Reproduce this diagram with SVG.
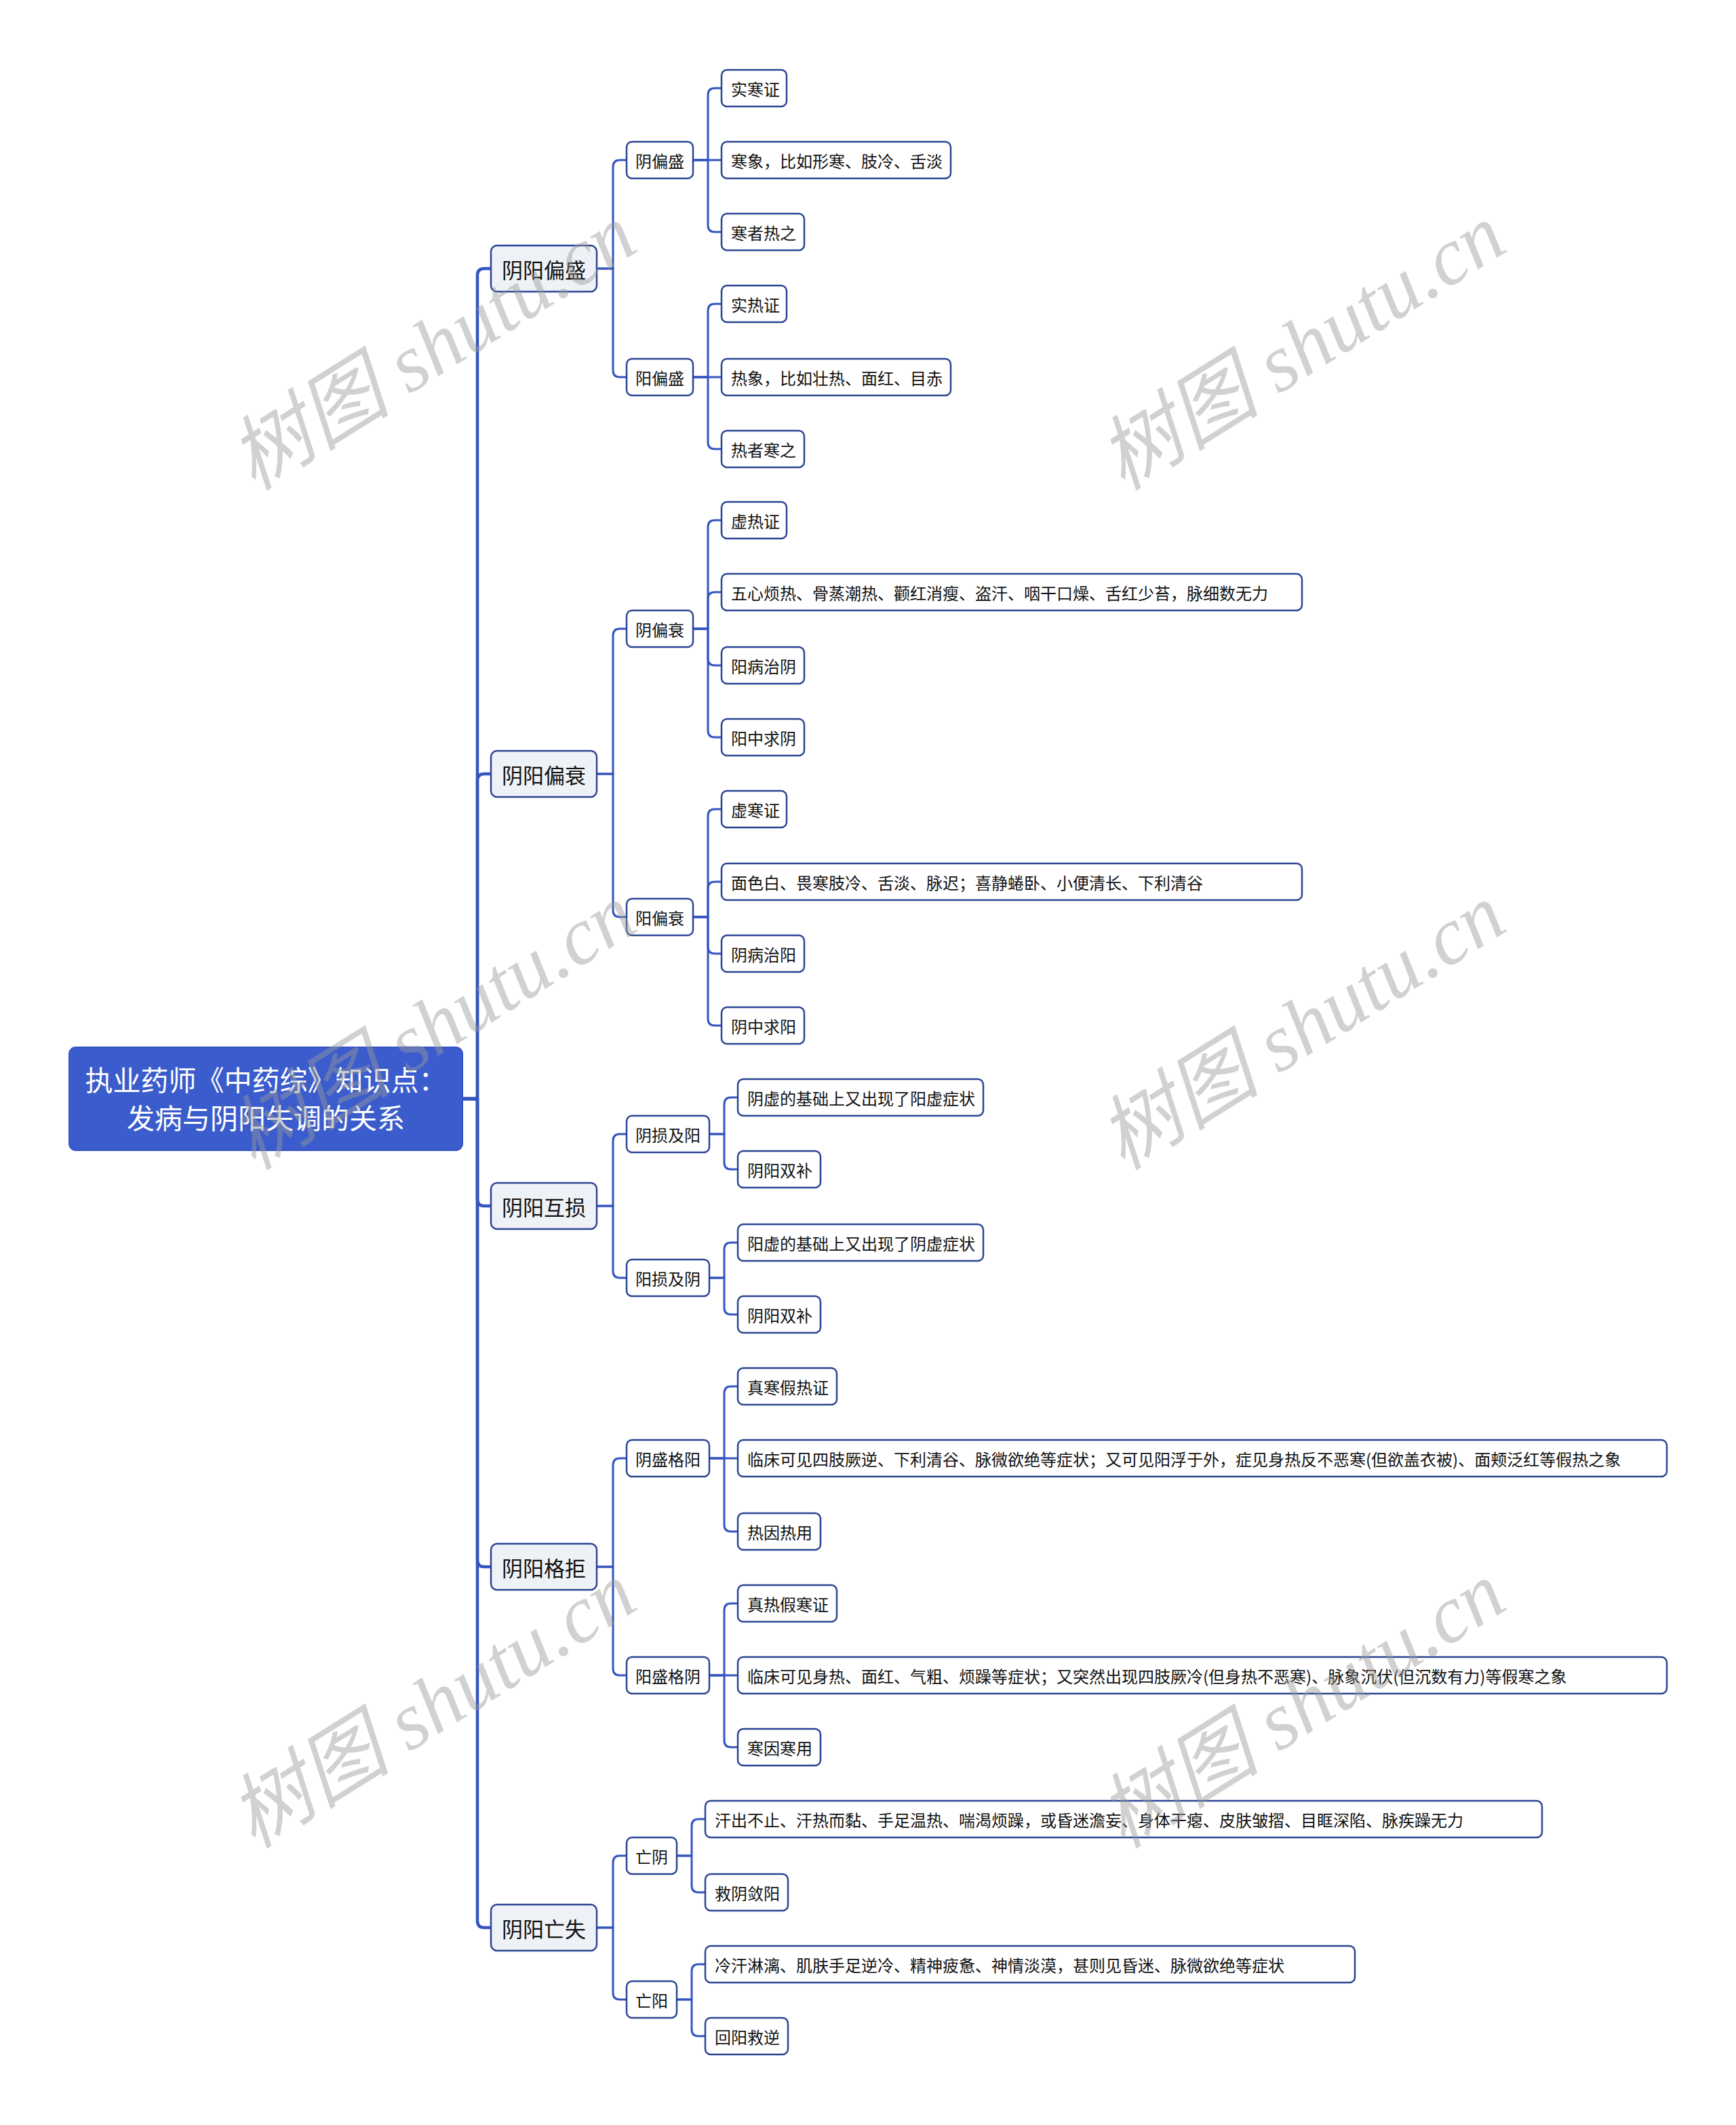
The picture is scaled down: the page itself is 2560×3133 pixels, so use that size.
<svg xmlns="http://www.w3.org/2000/svg" width="2560" height="3133" viewBox="0 0 2560 3133">
<style>
.bg{fill:#ffffff}
.conn path{fill:none;stroke:#3455bf;stroke-width:3;stroke-linecap:round;stroke-linejoin:round}
.conn .trunk{stroke-width:4.5}
.root rect{fill:#3b5ccc;stroke:#3454c4;stroke-width:2}
.root text{fill:#ffffff;font-family:"Noto Sans CJK SC","Noto Sans",sans-serif;font-size:41px;text-anchor:middle;dominant-baseline:central}
.l1 rect{fill:#eef2f7;stroke:#2b4593;stroke-width:2.5}
.l1 text{fill:#111;font-family:"Noto Sans CJK SC","Noto Sans",sans-serif;font-size:31px;text-anchor:middle;dominant-baseline:central}
.l2 rect,.lf rect{fill:#ffffff;stroke:#2b4593;stroke-width:2.5}
.l2 text{fill:#111;font-family:"Noto Sans CJK SC","Noto Sans",sans-serif;font-size:24px;text-anchor:middle;dominant-baseline:central}
.lf text{fill:#111;font-family:"Noto Sans CJK SC","Noto Sans",sans-serif;font-size:24px;dominant-baseline:central}
.wm text{fill:#9a9a9a;fill-opacity:0.45;font-family:"Liberation Serif","Noto Sans CJK SC",serif;font-style:italic;font-size:120px;text-anchor:middle;dominant-baseline:central}
</style>
<rect class="bg" x="0" y="0" width="2560" height="3133"/>
<g id="connectors" class="conn">
<path class="trunk" d="M682 1620H704V406Q704 396 714 396H724"/>
<path class="trunk" d="M682 1620H704V1151Q704 1141 714 1141H724"/>
<path class="trunk" d="M682 1620H704V1768Q704 1778 714 1778H724"/>
<path class="trunk" d="M682 1620H704V2300Q704 2310 714 2310H724"/>
<path class="trunk" d="M682 1620H704V2832Q704 2842 714 2842H724"/>
<path d="M880 396H904V246Q904 236 914 236H924"/>
<path d="M880 396H904V546Q904 556 914 556H924"/>
<path d="M880 1141H904V937Q904 927 914 927H924"/>
<path d="M880 1141H904V1342Q904 1352 914 1352H924"/>
<path d="M880 1778H904V1682Q904 1672 914 1672H924"/>
<path d="M880 1778H904V1874Q904 1884 914 1884H924"/>
<path d="M880 2310H904V2160Q904 2150 914 2150H924"/>
<path d="M880 2310H904V2460Q904 2470 914 2470H924"/>
<path d="M880 2842H904V2746Q904 2736 914 2736H924"/>
<path d="M880 2842H904V2938Q904 2948 914 2948H924"/>
<path d="M1022 236H1044V140Q1044 130 1054 130H1064"/>
<path d="M1022 236H1064"/>
<path d="M1022 236H1044V332Q1044 342 1054 342H1064"/>
<path d="M1022 556H1044V458Q1044 448 1054 448H1064"/>
<path d="M1022 556H1064"/>
<path d="M1022 556H1044V652Q1044 662 1054 662H1064"/>
<path d="M1022 927H1044V777Q1044 767 1054 767H1064"/>
<path d="M1022 927H1044V883Q1044 873 1054 873H1064"/>
<path d="M1022 927H1044V971Q1044 981 1054 981H1064"/>
<path d="M1022 927H1044V1077Q1044 1087 1054 1087H1064"/>
<path d="M1022 1352H1044V1203Q1044 1193 1054 1193H1064"/>
<path d="M1022 1352H1044V1310Q1044 1300 1054 1300H1064"/>
<path d="M1022 1352H1044V1396Q1044 1406 1054 1406H1064"/>
<path d="M1022 1352H1044V1502Q1044 1512 1054 1512H1064"/>
<path d="M1046 1672H1068V1628Q1068 1618 1078 1618H1088"/>
<path d="M1046 1672H1068V1714Q1068 1724 1078 1724H1088"/>
<path d="M1046 1884H1068V1842Q1068 1832 1078 1832H1088"/>
<path d="M1046 1884H1068V1928Q1068 1938 1078 1938H1088"/>
<path d="M1046 2150H1068V2054Q1068 2044 1078 2044H1088"/>
<path d="M1046 2150H1088"/>
<path d="M1046 2150H1068V2248Q1068 2258 1078 2258H1088"/>
<path d="M1046 2470H1068V2374Q1068 2364 1078 2364H1088"/>
<path d="M1046 2470H1088"/>
<path d="M1046 2470H1068V2566Q1068 2576 1078 2576H1088"/>
<path d="M998 2736H1020V2692Q1020 2682 1030 2682H1040"/>
<path d="M998 2736H1020V2780Q1020 2790 1030 2790H1040"/>
<path d="M998 2948H1020V2906Q1020 2896 1030 2896H1040"/>
<path d="M998 2948H1020V2992Q1020 3002 1030 3002H1040"/>
</g>
<g id="root" class="root"><rect x="102" y="1544" width="580" height="152" rx="10"/><text x="392" y="1590">执业药师《中药综》知识点：</text><text x="392" y="1646">发病与阴阳失调的关系</text></g>
<g id="n-pianSheng" class="l1"><rect x="724" y="362" width="156" height="68" rx="9"/><text x="802" y="396">阴阳偏盛</text></g>
<g id="n-pianShuai" class="l1"><rect x="724" y="1107" width="156" height="68" rx="9"/><text x="802" y="1141">阴阳偏衰</text></g>
<g id="n-huSun" class="l1"><rect x="724" y="1744" width="156" height="68" rx="9"/><text x="802" y="1778">阴阳互损</text></g>
<g id="n-geJu" class="l1"><rect x="724" y="2276" width="156" height="68" rx="9"/><text x="802" y="2310">阴阳格拒</text></g>
<g id="n-wangShi" class="l1"><rect x="724" y="2808" width="156" height="68" rx="9"/><text x="802" y="2842">阴阳亡失</text></g>
<g id="n-yinPianSheng" class="l2"><rect x="924" y="209" width="98" height="54" rx="8"/><text x="973" y="236">阴偏盛</text></g>
<g id="n-yangPianSheng" class="l2"><rect x="924" y="529" width="98" height="54" rx="8"/><text x="973" y="556">阳偏盛</text></g>
<g id="n-yinPianShuai" class="l2"><rect x="924" y="900" width="98" height="54" rx="8"/><text x="973" y="927">阴偏衰</text></g>
<g id="n-yangPianShuai" class="l2"><rect x="924" y="1325" width="98" height="54" rx="8"/><text x="973" y="1352">阳偏衰</text></g>
<g id="n-yinSunJiYang" class="l2"><rect x="924" y="1645" width="122" height="54" rx="8"/><text x="985" y="1672">阴损及阳</text></g>
<g id="n-yangSunJiYin" class="l2"><rect x="924" y="1857" width="122" height="54" rx="8"/><text x="985" y="1884">阳损及阴</text></g>
<g id="n-yinShengGeYang" class="l2"><rect x="924" y="2123" width="122" height="54" rx="8"/><text x="985" y="2150">阴盛格阳</text></g>
<g id="n-yangShengGeYin" class="l2"><rect x="924" y="2443" width="122" height="54" rx="8"/><text x="985" y="2470">阳盛格阴</text></g>
<g id="n-wangYin" class="l2"><rect x="924" y="2709" width="74" height="54" rx="8"/><text x="961" y="2736">亡阴</text></g>
<g id="n-wangYang" class="l2"><rect x="924" y="2921" width="74" height="54" rx="8"/><text x="961" y="2948">亡阳</text></g>
<g id="leaf-1" class="lf"><rect x="1064" y="103" width="96" height="54" rx="8"/><text x="1078" y="130">实寒证</text></g>
<g id="leaf-2" class="lf"><rect x="1064" y="209" width="338" height="54" rx="8"/><text x="1078" y="236">寒象，比如形寒、肢冷、舌淡</text></g>
<g id="leaf-3" class="lf"><rect x="1064" y="315" width="122" height="54" rx="8"/><text x="1078" y="342">寒者热之</text></g>
<g id="leaf-4" class="lf"><rect x="1064" y="421" width="96" height="54" rx="8"/><text x="1078" y="448">实热证</text></g>
<g id="leaf-5" class="lf"><rect x="1064" y="529" width="338" height="54" rx="8"/><text x="1078" y="556">热象，比如壮热、面红、目赤</text></g>
<g id="leaf-6" class="lf"><rect x="1064" y="635" width="122" height="54" rx="8"/><text x="1078" y="662">热者寒之</text></g>
<g id="leaf-7" class="lf"><rect x="1064" y="740" width="96" height="54" rx="8"/><text x="1078" y="767">虚热证</text></g>
<g id="leaf-8" class="lf"><rect x="1064" y="846" width="856" height="54" rx="8"/><text x="1078" y="873">五心烦热、骨蒸潮热、颧红消瘦、盗汗、咽干口燥、舌红少苔，脉细数无力</text></g>
<g id="leaf-9" class="lf"><rect x="1064" y="954" width="122" height="54" rx="8"/><text x="1078" y="981">阳病治阴</text></g>
<g id="leaf-10" class="lf"><rect x="1064" y="1060" width="122" height="54" rx="8"/><text x="1078" y="1087">阳中求阴</text></g>
<g id="leaf-11" class="lf"><rect x="1064" y="1166" width="96" height="54" rx="8"/><text x="1078" y="1193">虚寒证</text></g>
<g id="leaf-12" class="lf"><rect x="1064" y="1273" width="856" height="54" rx="8"/><text x="1078" y="1300">面色白、畏寒肢冷、舌淡、脉迟；喜静蜷卧、小便清长、下利清谷</text></g>
<g id="leaf-13" class="lf"><rect x="1064" y="1379" width="122" height="54" rx="8"/><text x="1078" y="1406">阴病治阳</text></g>
<g id="leaf-14" class="lf"><rect x="1064" y="1485" width="122" height="54" rx="8"/><text x="1078" y="1512">阴中求阳</text></g>
<g id="leaf-15" class="lf"><rect x="1088" y="1591" width="362" height="54" rx="8"/><text x="1102" y="1618">阴虚的基础上又出现了阳虚症状</text></g>
<g id="leaf-16" class="lf"><rect x="1088" y="1697" width="122" height="54" rx="8"/><text x="1102" y="1724">阴阳双补</text></g>
<g id="leaf-17" class="lf"><rect x="1088" y="1805" width="362" height="54" rx="8"/><text x="1102" y="1832">阳虚的基础上又出现了阴虚症状</text></g>
<g id="leaf-18" class="lf"><rect x="1088" y="1911" width="122" height="54" rx="8"/><text x="1102" y="1938">阴阳双补</text></g>
<g id="leaf-19" class="lf"><rect x="1088" y="2017" width="146" height="54" rx="8"/><text x="1102" y="2044">真寒假热证</text></g>
<g id="leaf-20" class="lf"><rect x="1088" y="2123" width="1370" height="54" rx="8"/><text x="1102" y="2150">临床可见四肢厥逆、下利清谷、脉微欲绝等症状；又可见阳浮于外，症见身热反不恶寒(但欲盖衣被)、面颊泛红等假热之象</text></g>
<g id="leaf-21" class="lf"><rect x="1088" y="2231" width="122" height="54" rx="8"/><text x="1102" y="2258">热因热用</text></g>
<g id="leaf-22" class="lf"><rect x="1088" y="2337" width="146" height="54" rx="8"/><text x="1102" y="2364">真热假寒证</text></g>
<g id="leaf-23" class="lf"><rect x="1088" y="2443" width="1370" height="54" rx="8"/><text x="1102" y="2470">临床可见身热、面红、气粗、烦躁等症状；又突然出现四肢厥冷(但身热不恶寒)、脉象沉伏(但沉数有力)等假寒之象</text></g>
<g id="leaf-24" class="lf"><rect x="1088" y="2549" width="122" height="54" rx="8"/><text x="1102" y="2576">寒因寒用</text></g>
<g id="leaf-25" class="lf"><rect x="1040" y="2655" width="1234" height="54" rx="8"/><text x="1054" y="2682">汗出不止、汗热而黏、手足温热、喘渴烦躁，或昏迷澹妄、身体干瘪、皮肤皱摺、目眶深陷、脉疾躁无力</text></g>
<g id="leaf-26" class="lf"><rect x="1040" y="2763" width="122" height="54" rx="8"/><text x="1054" y="2790">救阴敛阳</text></g>
<g id="leaf-27" class="lf"><rect x="1040" y="2869" width="958" height="54" rx="8"/><text x="1054" y="2896">冷汗淋漓、肌肤手足逆冷、精神疲惫、神情淡漠，甚则见昏迷、脉微欲绝等症状</text></g>
<g id="leaf-28" class="lf"><rect x="1040" y="2975" width="122" height="54" rx="8"/><text x="1054" y="3002">回阳救逆</text></g>
<g id="watermarks" class="wm">
<text transform="translate(638 512) rotate(-32)">树图 shutu.cn</text>
<text transform="translate(1920 512) rotate(-32)">树图 shutu.cn</text>
<text transform="translate(638 1514) rotate(-32)">树图 shutu.cn</text>
<text transform="translate(1920 1514) rotate(-32)">树图 shutu.cn</text>
<text transform="translate(638 2514) rotate(-32)">树图 shutu.cn</text>
<text transform="translate(1920 2514) rotate(-32)">树图 shutu.cn</text>
</g>
</svg>
